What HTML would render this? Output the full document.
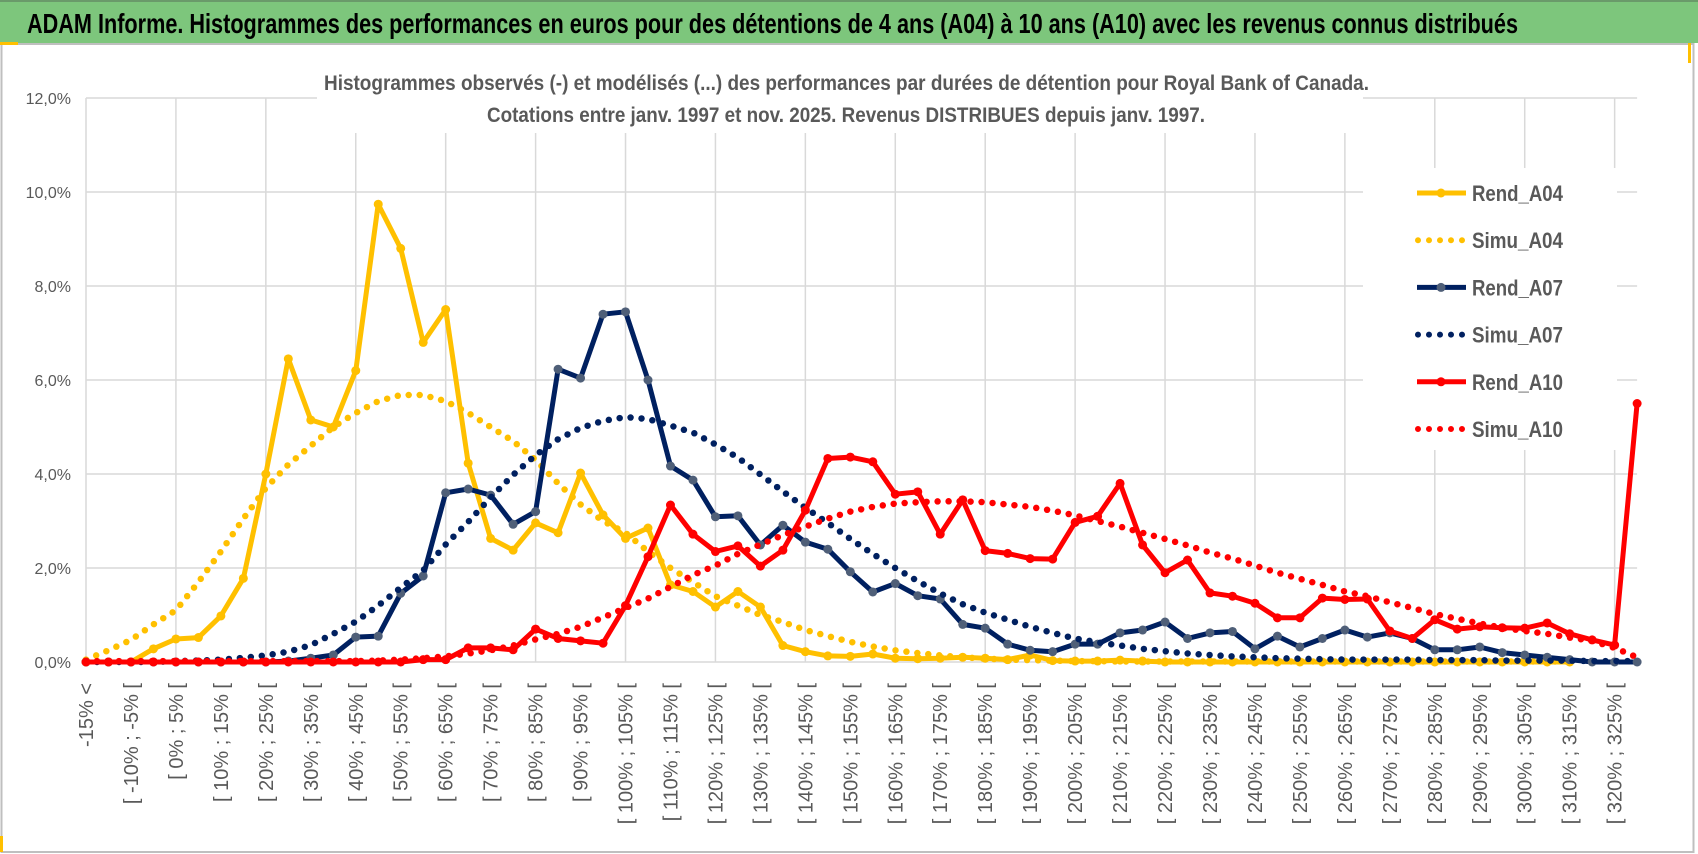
<!DOCTYPE html>
<html><head><meta charset="utf-8"><style>
html,body{margin:0;padding:0;background:#fff;}
svg{display:block;font-family:"Liberation Sans",sans-serif;}
</style></head><body>
<svg id="chart" width="1698" height="854" viewBox="0 0 1698 854" xmlns="http://www.w3.org/2000/svg">
<rect x="1.5" y="44" width="1692" height="808" fill="#fff" stroke="#bfbfbf" stroke-width="2"/>
<rect x="0" y="0" width="1698" height="43" fill="#7dc67c"/>
<rect x="0" y="0" width="1698" height="2" fill="#6a9a6a"/>
<rect x="0" y="42" width="18" height="3" fill="#ffc000"/>
<rect x="1688" y="43" width="3" height="20" fill="#ffc000"/>
<rect x="0" y="836" width="3" height="16" fill="#ffc000"/>
<text x="27" y="33" font-size="28" font-weight="bold" fill="#000" textLength="1491" lengthAdjust="spacingAndGlyphs">ADAM Informe. Histogrammes des performances en euros pour des détentions de 4 ans (A04) à 10 ans (A10) avec les revenus connus distribués</text>
<g id="grid"></g>
<rect x="317" y="60" width="1046" height="73" fill="#fff"/>
<text x="324" y="90" font-size="21" font-weight="bold" fill="#595959" textLength="1045" lengthAdjust="spacingAndGlyphs">Histogrammes observés (-) et modélisés (...) des performances par durées de détention pour Royal Bank of Canada.</text>
<text x="487" y="122" font-size="21" font-weight="bold" fill="#595959" textLength="718" lengthAdjust="spacingAndGlyphs">Cotations entre janv. 1997 et nov. 2025. Revenus DISTRIBUES depuis janv. 1997.</text>
<g id="axes"></g>
<g id="series"></g>
<rect x="1363" y="168" width="254" height="282" fill="#fff"/>
<g id="legend"></g>
</svg>
<script>
const categories = ["-15% <","[ -15% ; -10% [","[ -10% ; -5% [","[ -5% ; 0% [","[ 0% ; 5% [","[ 5% ; 10% [","[ 10% ; 15% [","[ 15% ; 20% [","[ 20% ; 25% [","[ 25% ; 30% [","[ 30% ; 35% [","[ 35% ; 40% [","[ 40% ; 45% [","[ 45% ; 50% [","[ 50% ; 55% [","[ 55% ; 60% [","[ 60% ; 65% [","[ 65% ; 70% [","[ 70% ; 75% [","[ 75% ; 80% [","[ 80% ; 85% [","[ 85% ; 90% [","[ 90% ; 95% [","[ 95% ; 100% [","[ 100% ; 105% [","[ 105% ; 110% [","[ 110% ; 115% [","[ 115% ; 120% [","[ 120% ; 125% [","[ 125% ; 130% [","[ 130% ; 135% [","[ 135% ; 140% [","[ 140% ; 145% [","[ 145% ; 150% [","[ 150% ; 155% [","[ 155% ; 160% [","[ 160% ; 165% [","[ 165% ; 170% [","[ 170% ; 175% [","[ 175% ; 180% [","[ 180% ; 185% [","[ 185% ; 190% [","[ 190% ; 195% [","[ 195% ; 200% [","[ 200% ; 205% [","[ 205% ; 210% [","[ 210% ; 215% [","[ 215% ; 220% [","[ 220% ; 225% [","[ 225% ; 230% [","[ 230% ; 235% [","[ 235% ; 240% [","[ 240% ; 245% [","[ 245% ; 250% [","[ 250% ; 255% [","[ 255% ; 260% [","[ 260% ; 265% [","[ 265% ; 270% [","[ 270% ; 275% [","[ 275% ; 280% [","[ 280% ; 285% [","[ 285% ; 290% [","[ 290% ; 295% [","[ 295% ; 300% [","[ 300% ; 305% [","[ 305% ; 310% [","[ 310% ; 315% [","[ 315% ; 320% [","[ 320% ; 325% [","325% >"];
const rendA04 = [0,0,0,0.28,0.49,0.52,0.98,1.78,4.0,6.45,5.15,5.0,6.2,9.74,8.8,6.8,7.5,4.23,2.63,2.38,2.96,2.75,4.02,3.13,2.63,2.85,1.64,1.5,1.17,1.5,1.17,0.35,0.22,0.13,0.12,0.17,0.08,0.07,0.08,0.1,0.08,0.05,0.15,0.03,0.02,0.02,0.04,0.02,0,0,0,0,0,0,0,0,0,0,0,0,0,0,0,0,0,0,0,null,null,null];
const simuA04 = [0.05,0.25,0.47,0.8,1.1,1.7,2.35,3.05,3.7,4.2,4.6,5.0,5.3,5.55,5.68,5.68,5.55,5.3,5.0,4.7,4.3,3.8,3.35,3.0,2.75,2.35,2.0,1.7,1.4,1.2,1.0,0.85,0.68,0.55,0.43,0.33,0.25,0.19,0.14,0.1,0.07,0.05,0.04,0.03,0.02,0.02,0.01,0.01,0.01,0.01,0.01,0.01,0.01,0.01,0.01,0.01,0.01,0.01,0.01,0.01,0.01,0.01,0.01,0.01,0.01,0.01,0.01,null,null,null];
const rendA07 = [0,0,0,0,0,0,0,0,0,0.02,0.08,0.15,0.53,0.55,1.46,1.83,3.6,3.68,3.55,2.93,3.2,6.23,6.04,7.4,7.45,6.0,4.17,3.87,3.09,3.11,2.49,2.91,2.55,2.4,1.92,1.49,1.67,1.41,1.34,0.8,0.72,0.38,0.25,0.22,0.38,0.38,0.62,0.68,0.85,0.5,0.62,0.65,0.28,0.55,0.32,0.5,0.68,0.53,0.62,0.5,0.26,0.26,0.32,0.2,0.15,0.1,0.05,0,0,0];
const simuA07 = [0,0,0,0,0.02,0.03,0.05,0.09,0.14,0.22,0.36,0.6,0.86,1.2,1.58,1.95,2.5,2.98,3.5,3.98,4.4,4.74,4.98,5.13,5.21,5.17,5.03,4.88,4.63,4.35,3.99,3.63,3.28,2.96,2.62,2.3,2.0,1.72,1.46,1.23,1.05,0.9,0.75,0.62,0.5,0.42,0.35,0.28,0.23,0.18,0.15,0.12,0.1,0.08,0.07,0.06,0.05,0.05,0.05,0.05,0.04,0.04,0.04,0.03,0.03,0.03,0.03,0.02,0.02,0.02];
const rendA10 = [0,0,0,0,0,0,0,0,0,0,0,0,0,0,0,0.05,0.05,0.3,0.3,0.26,0.7,0.5,0.45,0.4,1.2,2.24,3.34,2.72,2.35,2.47,2.04,2.38,3.23,4.33,4.36,4.26,3.57,3.62,2.72,3.45,2.37,2.31,2.2,2.19,2.97,3.1,3.8,2.49,1.9,2.17,1.47,1.4,1.25,0.94,0.94,1.36,1.33,1.34,0.66,0.5,0.9,0.7,0.75,0.73,0.72,0.83,0.6,0.47,0.36,5.5];
const simuA10 = [0.02,0.02,0.02,0.02,0.02,0.02,0.02,0.02,0.02,0.02,0.02,0.02,0.02,0.03,0.05,0.08,0.12,0.18,0.25,0.35,0.48,0.6,0.75,0.95,1.15,1.35,1.6,1.85,2.05,2.3,2.5,2.7,2.88,3.05,3.2,3.3,3.37,3.4,3.42,3.42,3.4,3.35,3.3,3.22,3.12,3.0,2.88,2.75,2.62,2.48,2.33,2.2,2.05,1.9,1.77,1.64,1.5,1.4,1.27,1.15,1.02,0.92,0.82,0.73,0.66,0.6,0.52,0.45,0.3,0.1];
const yTicks = [0,2,4,6,8,10,12];
const yTickLabels = ["0,0%","2,0%","4,0%","6,0%","8,0%","10,0%","12,0%"];
const seriesNames = ["Rend_A04","Simu_A04","Rend_A07","Simu_A07","Rend_A10","Simu_A10"];

const NS = "http://www.w3.org/2000/svg";
const X0 = 86, XSTEP = 22.48, Y0 = 662, YPX = 47;
function xScale(i){ return X0 + i * XSTEP; }
function yScale(v){ return Y0 - v * YPX; }
function mk(tag, attrs, parent){ const e = document.createElementNS(NS, tag); for (const k in attrs) e.setAttribute(k, attrs[k]); parent.appendChild(e); return e; }

const grid = document.getElementById('grid');
const axes = document.getElementById('axes');
const series = document.getElementById('series');
const legend = document.getElementById('legend');
const xMax = xScale(categories.length - 1);

yTicks.forEach((t, i) => {
  const l = mk('line', {x1: X0, x2: xMax, y1: yScale(t), y2: yScale(t), stroke: '#d9d9d9', 'stroke-width': 1.5}, grid);
  
  
  const tx = mk('text', {x: 71, y: yScale(t) + 6, 'text-anchor': 'end', 'font-size': 16, fill: '#595959'}, axes);
  
  
  tx.textContent = yTickLabels[i];
});
categories.forEach((c, i) => {
  if (i % 4 === 0) {
    const l = mk('line', {x1: xScale(i), x2: xScale(i), y1: yScale(12), y2: Y0, stroke: '#d9d9d9', 'stroke-width': 1.5}, grid);
    
    
  }
  if (i % 2 === 0) {
    const x = xScale(i) + 7;
    const tx = mk('text', {x: x, y: 683, 'text-anchor': 'end', 'font-size': 20, fill: '#595959', transform: 'rotate(-90 ' + x + ' 683)'}, axes);
    
    
    tx.textContent = c;
  }
});

function pathFor(vals){
  let d = '', pen = false;
  vals.forEach((v, i) => {
    if (v === null) { pen = false; return; }
    d += (pen ? 'L' : 'M') + xScale(i).toFixed(1) + ' ' + yScale(v).toFixed(1);
    pen = true;
  });
  return d;
}
function drawRend(vals, color, marker, name){
  const g = mk('g', {}, series);
  
  
  mk('path', {d: pathFor(vals), fill: 'none', stroke: color, 'stroke-width': 5, 'stroke-linejoin': 'round'}, g);
  vals.forEach((v, i) => {
    if (v === null) return;
    const c = mk('circle', {cx: xScale(i), cy: yScale(v), r: 4.5, fill: marker}, g);
    
    
  });
}
function drawSimu(vals, color, name){
  const p = mk('path', {d: pathFor(vals), fill: 'none', stroke: color, 'stroke-width': 6.5, 'stroke-linecap': 'round', 'stroke-dasharray': '0 11'}, series);
  
  
}
drawRend(rendA04, '#ffc000', '#ffc000', 'rend-a04-line');
drawSimu(simuA04, '#ffc000', 'simu-a04-line');
drawRend(rendA07, '#002060', '#4f5f78', 'rend-a07-line');
drawSimu(simuA07, '#002060', 'simu-a07-line');
drawRend(rendA10, '#ff0000', '#ff0000', 'rend-a10-line');
drawSimu(simuA10, '#ff0000', 'simu-a10-line');

const legColors = ['#ffc000','#ffc000','#002060','#002060','#ff0000','#ff0000'];
const legMarkers = ['#ffc000',null,'#4f5f78',null,'#ff0000',null];
seriesNames.forEach((n, i) => {
  const cy = 193 + i * 47.2;
  const g = mk('g', {}, legend);
  
  
  if (i % 2 === 0) {
    mk('line', {x1: 1417, x2: 1466, y1: cy, y2: cy, stroke: legColors[i], 'stroke-width': 5}, g);
    mk('circle', {cx: 1441, cy: cy, r: 4.5, fill: legMarkers[i]}, g);
  } else {
    mk('line', {x1: 1418, x2: 1463, y1: cy, y2: cy, stroke: legColors[i], 'stroke-width': 6, 'stroke-linecap': 'round', 'stroke-dasharray': '0 11'}, g);
  }
  const t = mk('text', {x: 1472, y: cy + 8, 'font-size': 22, 'font-weight': 'bold', fill: '#595959', textLength: 91, lengthAdjust: 'spacingAndGlyphs'}, g);
  t.textContent = n;
});
</script>
</body></html>
